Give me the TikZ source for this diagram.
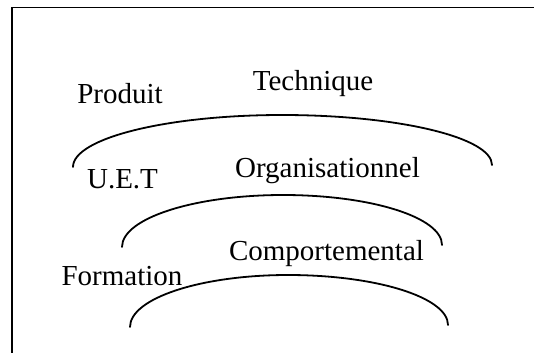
\documentclass[tikz,border=0pt]{standalone}
\usepackage{fontspec}
\setmainfont{Liberation Serif}
\begin{document}
\begin{tikzpicture}[x=1pt,y=-1pt,
  lbl/.style={anchor=base,inner sep=0pt,font=\fontsize{29}{32}\selectfont},
  frameline/.style={line width=1.5pt},
  arcline/.style={line width=1.8pt,line cap=round}]
\useasboundingbox (0,0) rectangle (534,353);
% frame (top and left only)
\coordinate (ftr) at (534,7.5);
\coordinate (ftl) at (10.5,7.5);
\coordinate (ftc) at (11.5,7.5);
\coordinate (fbl) at (11.5,353);
\draw[frameline,line width=1.3pt] (ftr) -- (ftl);
\draw[frameline,line width=2pt] (ftc) -- (fbl);
% labels
\node[lbl] (produit) at (120,103) {Produit};
\node[lbl] (technique) at (313,90) {Technique};
\node[lbl] (uet) at (122.5,188) {U.E.T};
\node[lbl] (organ) at (327.5,177) {Organisationnel};
\node[lbl] (formation) at (122,285) {Formation};
\node[lbl] (comport) at (326.5,260) {Comportemental};
% arc 1
\coordinate (a1l) at (73,167);
\coordinate (a1p) at (282,115);
\coordinate (a1r) at (492,165);
\draw[arcline] (a1l) .. controls (73,138.3) and (166.6,115) .. (a1p)
  .. controls (398,115) and (492,137.4) .. (a1r);
% arc 2
\coordinate (a2l) at (122,247);
\coordinate (a2p) at (283,195);
\coordinate (a2r) at (442,245);
\draw[arcline] (a2l) .. controls (122,218.3) and (194.1,195) .. (a2p)
  .. controls (371.3,195) and (442,217.4) .. (a2r);
% arc 3
\coordinate (a3l) at (130,327);
\coordinate (a3p) at (288,275);
\coordinate (a3r) at (448,325);
\draw[arcline] (a3l) .. controls (130,298.3) and (200.8,275) .. (a3p)
  .. controls (376.3,275) and (448,297.4) .. (a3r);
\end{tikzpicture}
\end{document}
